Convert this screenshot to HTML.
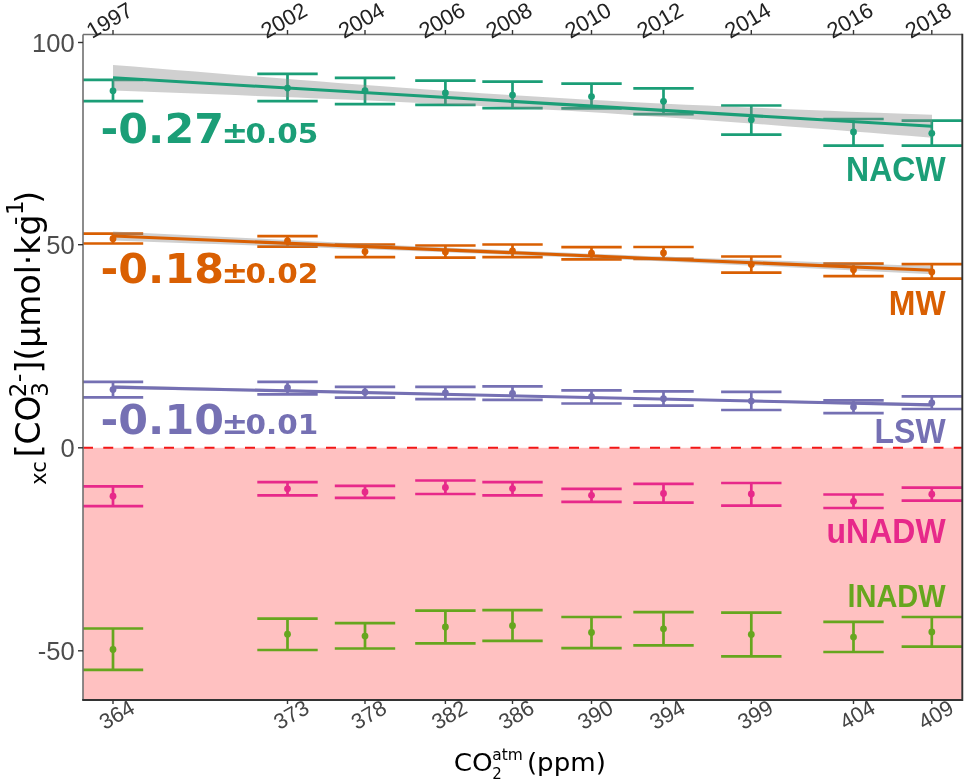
<!DOCTYPE html>
<html><head><meta charset="utf-8"><title>chart</title><style>html,body{margin:0;padding:0;background:#fff}svg{display:block}</style></head><body>
<svg width="965" height="784" viewBox="0 0 965 784">
<defs><clipPath id="cp"><rect x="83" y="34.5" width="879.3" height="665.5"/></clipPath></defs>
<rect width="965" height="784" fill="#fff"/>
<g clip-path="url(#cp)">
<rect x="83" y="447.8" width="879.3" height="252.2" fill="#FFC1C1"/>
<line x1="83" y1="447.8" x2="962.3" y2="447.8" stroke="#F21616" stroke-width="2" stroke-dasharray="10 10.25"/>
<g stroke="#1B9E77" stroke-width="2.7" fill="none">
<path d="M82.8 79.8H143.2M82.8 101.1H143.2M113 79.8V101.1"/>
<path d="M257.3 73.8H317.7M257.3 101.1H317.7M287.5 73.8V101.1"/>
<path d="M334.8 77.9H395.2M334.8 104.2H395.2M365 77.9V104.2"/>
<path d="M415.2 80.6H475.6M415.2 104.9H475.6M445.4 80.6V104.9"/>
<path d="M482.3 81.7H542.7M482.3 108.2H542.7M512.5 81.7V108.2"/>
<path d="M561.3 83.7H621.7M561.3 108.4H621.7M591.5 83.7V108.4"/>
<path d="M633.3 88.3H693.7M633.3 114.2H693.7M663.5 88.3V114.2"/>
<path d="M721.1 105.5H781.5M721.1 134.7H781.5M751.3 105.5V134.7"/>
<path d="M823.3 119H883.7M823.3 145.7H883.7M853.5 119V145.7"/>
<path d="M901.6 120.6H962.0M901.6 145.7H962.0M931.8 120.6V145.7"/>
</g>
<g stroke="#D95F02" stroke-width="2.7" fill="none">
<path d="M82.8 233.7H143.2M82.8 243.5H143.2M113 233.7V243.5"/>
<path d="M257.3 236.2H317.7M257.3 246.6H317.7M287.5 236.2V246.6"/>
<path d="M334.8 244.5H395.2M334.8 257.1H395.2M365 244.5V257.1"/>
<path d="M415.2 245.5H475.6M415.2 257.6H475.6M445.4 245.5V257.6"/>
<path d="M482.3 244.5H542.7M482.3 257.1H542.7M512.5 244.5V257.1"/>
<path d="M561.3 247.2H621.7M561.3 259.3H621.7M591.5 247.2V259.3"/>
<path d="M633.3 247H693.7M633.3 258.8H693.7M663.5 247V258.8"/>
<path d="M721.1 256.5H781.5M721.1 272.7H781.5M751.3 256.5V272.7"/>
<path d="M823.3 263.6H883.7M823.3 276.2H883.7M853.5 263.6V276.2"/>
<path d="M901.6 264.2H962.0M901.6 278.7H962.0M931.8 264.2V278.7"/>
</g>
<g stroke="#7570B3" stroke-width="2.7" fill="none">
<path d="M82.8 381.9H143.2M82.8 397.3H143.2M113 381.9V397.3"/>
<path d="M257.3 381.9H317.7M257.3 394.3H317.7M287.5 381.9V394.3"/>
<path d="M334.8 386.8H395.2M334.8 397.6H395.2M365 386.8V397.6"/>
<path d="M415.2 386.8H475.6M415.2 399.1H475.6M445.4 386.8V399.1"/>
<path d="M482.3 386.4H542.7M482.3 399.9H542.7M512.5 386.4V399.9"/>
<path d="M561.3 390.4H621.7M561.3 403.5H621.7M591.5 390.4V403.5"/>
<path d="M633.3 391.4H693.7M633.3 405.7H693.7M663.5 391.4V405.7"/>
<path d="M721.1 391.8H781.5M721.1 410H781.5M751.3 391.8V410"/>
<path d="M823.3 400.3H883.7M823.3 413.2H883.7M853.5 400.3V413.2"/>
<path d="M901.6 396.4H962.0M901.6 409H962.0M931.8 396.4V409"/>
</g>
<g stroke="#E7298A" stroke-width="2.7" fill="none">
<path d="M82.8 486.4H143.2M82.8 506.1H143.2M113 486.4V506.1"/>
<path d="M257.3 482.2H317.7M257.3 495.4H317.7M287.5 482.2V495.4"/>
<path d="M334.8 485.9H395.2M334.8 497.9H395.2M365 485.9V497.9"/>
<path d="M415.2 480.5H475.6M415.2 494H475.6M445.4 480.5V494"/>
<path d="M482.3 482.2H542.7M482.3 495.4H542.7M512.5 482.2V495.4"/>
<path d="M561.3 488.9H621.7M561.3 501.8H621.7M591.5 488.9V501.8"/>
<path d="M633.3 483.8H693.7M633.3 502.6H693.7M663.5 483.8V502.6"/>
<path d="M721.1 483H781.5M721.1 505.7H781.5M751.3 483V505.7"/>
<path d="M823.3 494.5H883.7M823.3 508H883.7M853.5 494.5V508"/>
<path d="M901.6 487.7H962.0M901.6 500.7H962.0M931.8 487.7V500.7"/>
</g>
<g stroke="#66A61E" stroke-width="2.7" fill="none">
<path d="M82.8 628.5H143.2M82.8 669.8H143.2M113 628.5V669.8"/>
<path d="M257.3 618.7H317.7M257.3 650H317.7M287.5 618.7V650"/>
<path d="M334.8 623.2H395.2M334.8 648.5H395.2M365 623.2V648.5"/>
<path d="M415.2 610.6H475.6M415.2 643.3H475.6M445.4 610.6V643.3"/>
<path d="M482.3 610.2H542.7M482.3 640.8H542.7M512.5 610.2V640.8"/>
<path d="M561.3 617H621.7M561.3 648.1H621.7M591.5 617V648.1"/>
<path d="M633.3 612.2H693.7M633.3 645.4H693.7M663.5 612.2V645.4"/>
<path d="M721.1 612.6H781.5M721.1 656.4H781.5M751.3 612.6V656.4"/>
<path d="M823.3 621.8H883.7M823.3 652H883.7M853.5 621.8V652"/>
<path d="M901.6 617H962.0M901.6 646.6H962.0M931.8 617V646.6"/>
</g>
<path d="M113.0 65.0L133.5 66.6L153.9 68.3L174.4 69.9L194.9 71.6L215.4 73.2L235.8 74.9L256.3 76.5L276.8 78.1L297.3 79.7L317.8 81.3L338.2 82.9L358.7 84.4L379.2 85.9L399.6 87.5L420.1 88.9L440.6 90.4L461.1 91.8L481.6 93.2L502.0 94.5L522.5 95.8L543.0 97.1L563.5 98.3L583.9 99.5L604.4 100.6L624.9 101.7L645.4 102.7L665.8 103.7L686.3 104.7L706.8 105.6L727.2 106.6L747.7 107.4L768.2 108.3L788.7 109.2L809.1 110.0L829.6 110.8L850.1 111.7L870.6 112.5L891.0 113.3L911.5 114.0L932.0 114.8L932.0 137.8L911.5 136.1L891.0 134.5L870.6 132.8L850.1 131.2L829.6 129.6L809.1 128.0L788.7 126.4L768.2 124.8L747.7 123.3L727.2 121.7L706.8 120.2L686.3 118.8L665.8 117.3L645.4 115.9L624.9 114.5L604.4 113.1L583.9 111.8L563.5 110.6L543.0 109.4L522.5 108.2L502.0 107.1L481.6 106.0L461.1 104.9L440.6 103.9L420.1 102.9L399.6 102.0L379.2 101.0L358.7 100.1L338.2 99.3L317.8 98.4L297.3 97.6L276.8 96.7L256.3 95.9L235.8 95.1L215.4 94.3L194.9 93.5L174.4 92.7L153.9 92.0L133.5 91.2L113.0 90.5Z" fill="#8a8a8a" fill-opacity="0.40"/>
<line x1="113" y1="77.7" x2="932" y2="126.3" stroke="#1B9E77" stroke-width="3.1"/>
<path d="M113.0 231.4L133.5 232.4L153.9 233.4L174.4 234.5L194.9 235.5L215.4 236.5L235.8 237.5L256.3 238.5L276.8 239.5L297.3 240.5L317.8 241.5L338.2 242.4L358.7 243.4L379.2 244.4L399.6 245.4L420.1 246.3L440.6 247.2L461.1 248.2L481.6 249.1L502.0 250.0L522.5 250.9L543.0 251.7L563.5 252.6L583.9 253.4L604.4 254.3L624.9 255.1L645.4 255.9L665.8 256.6L686.3 257.4L706.8 258.2L727.2 258.9L747.7 259.6L768.2 260.4L788.7 261.1L809.1 261.8L829.6 262.5L850.1 263.3L870.6 264.0L891.0 264.7L911.5 265.4L932.0 266.1L932.0 274.3L911.5 273.3L891.0 272.3L870.6 271.3L850.1 270.3L829.6 269.3L809.1 268.3L788.7 267.3L768.2 266.3L747.7 265.4L727.2 264.4L706.8 263.4L686.3 262.5L665.8 261.5L645.4 260.6L624.9 259.7L604.4 258.8L583.9 257.9L563.5 257.0L543.0 256.2L522.5 255.3L502.0 254.5L481.6 253.7L461.1 252.9L440.6 252.1L420.1 251.3L399.6 250.6L379.2 249.8L358.7 249.1L338.2 248.4L317.8 247.6L297.3 246.9L276.8 246.2L256.3 245.5L235.8 244.8L215.4 244.1L194.9 243.4L174.4 242.7L153.9 242.0L133.5 241.3L113.0 240.6Z" fill="#8a8a8a" fill-opacity="0.40"/>
<line x1="113" y1="236" x2="932" y2="270.2" stroke="#D95F02" stroke-width="3.1"/>
<path d="M113.0 385.3L133.5 385.8L153.9 386.3L174.4 386.8L194.9 387.3L215.4 387.8L235.8 388.3L256.3 388.8L276.8 389.3L297.3 389.8L317.8 390.3L338.2 390.8L358.7 391.3L379.2 391.8L399.6 392.3L420.1 392.8L440.6 393.3L461.1 393.7L481.6 394.2L502.0 394.7L522.5 395.1L543.0 395.6L563.5 396.0L583.9 396.5L604.4 396.9L624.9 397.3L645.4 397.7L665.8 398.2L686.3 398.6L706.8 399.0L727.2 399.4L747.7 399.8L768.2 400.2L788.7 400.6L809.1 401.0L829.6 401.4L850.1 401.7L870.6 402.1L891.0 402.5L911.5 402.9L932.0 403.3L932.0 406.5L911.5 406.0L891.0 405.5L870.6 405.0L850.1 404.5L829.6 404.0L809.1 403.5L788.7 403.0L768.2 402.5L747.7 402.0L727.2 401.5L706.8 401.0L686.3 400.6L665.8 400.1L645.4 399.6L624.9 399.1L604.4 398.7L583.9 398.2L563.5 397.8L543.0 397.3L522.5 396.9L502.0 396.4L481.6 396.0L461.1 395.6L440.6 395.2L420.1 394.8L399.6 394.4L379.2 394.0L358.7 393.5L338.2 393.2L317.8 392.8L297.3 392.4L276.8 392.0L256.3 391.6L235.8 391.2L215.4 390.8L194.9 390.4L174.4 390.0L153.9 389.7L133.5 389.3L113.0 388.9Z" fill="#8a8a8a" fill-opacity="0.40"/>
<line x1="113" y1="387.1" x2="932" y2="404.9" stroke="#7570B3" stroke-width="3.1"/>
<g fill="#1B9E77">
<circle cx="113" cy="90.8" r="3.4"/>
<circle cx="287.5" cy="88.1" r="3.4"/>
<circle cx="365" cy="90.6" r="3.4"/>
<circle cx="445.4" cy="93" r="3.4"/>
<circle cx="512.5" cy="95.1" r="3.4"/>
<circle cx="591.5" cy="96.6" r="3.4"/>
<circle cx="663.5" cy="101.3" r="3.4"/>
<circle cx="751.3" cy="119.8" r="3.4"/>
<circle cx="853.5" cy="132" r="3.4"/>
<circle cx="931.8" cy="133.3" r="3.4"/>
</g>
<g fill="#D95F02">
<circle cx="113" cy="238.7" r="3.4"/>
<circle cx="287.5" cy="240.8" r="3.4"/>
<circle cx="365" cy="251.6" r="3.4"/>
<circle cx="445.4" cy="252" r="3.4"/>
<circle cx="512.5" cy="250.9" r="3.4"/>
<circle cx="591.5" cy="253.2" r="3.4"/>
<circle cx="663.5" cy="253" r="3.4"/>
<circle cx="751.3" cy="264.6" r="3.4"/>
<circle cx="853.5" cy="269.8" r="3.4"/>
<circle cx="931.8" cy="271.9" r="3.4"/>
</g>
<g fill="#7570B3">
<circle cx="113" cy="389.6" r="3.4"/>
<circle cx="287.5" cy="387.7" r="3.4"/>
<circle cx="365" cy="392.2" r="3.4"/>
<circle cx="445.4" cy="392.8" r="3.4"/>
<circle cx="512.5" cy="393.3" r="3.4"/>
<circle cx="591.5" cy="396.6" r="3.4"/>
<circle cx="663.5" cy="398.7" r="3.4"/>
<circle cx="751.3" cy="401.1" r="3.4"/>
<circle cx="853.5" cy="406.9" r="3.4"/>
<circle cx="931.8" cy="402.8" r="3.4"/>
</g>
<g fill="#E7298A">
<circle cx="113" cy="496.2" r="3.4"/>
<circle cx="287.5" cy="488.8" r="3.4"/>
<circle cx="365" cy="491.9" r="3.4"/>
<circle cx="445.4" cy="487.4" r="3.4"/>
<circle cx="512.5" cy="488.6" r="3.4"/>
<circle cx="591.5" cy="495.3" r="3.4"/>
<circle cx="663.5" cy="493.4" r="3.4"/>
<circle cx="751.3" cy="494" r="3.4"/>
<circle cx="853.5" cy="501.3" r="3.4"/>
<circle cx="931.8" cy="494.2" r="3.4"/>
</g>
<g fill="#66A61E">
<circle cx="113" cy="649.5" r="3.4"/>
<circle cx="287.5" cy="634.2" r="3.4"/>
<circle cx="365" cy="636.1" r="3.4"/>
<circle cx="445.4" cy="627" r="3.4"/>
<circle cx="512.5" cy="625.7" r="3.4"/>
<circle cx="591.5" cy="632.5" r="3.4"/>
<circle cx="663.5" cy="628.8" r="3.4"/>
<circle cx="751.3" cy="634.4" r="3.4"/>
<circle cx="853.5" cy="637.1" r="3.4"/>
<circle cx="931.8" cy="631.9" r="3.4"/>
</g>
</g>
<g font-family="'DejaVu Sans',sans-serif" font-weight="bold" fill="#1B9E77">
<text transform="translate(100.6,143.4) scale(1.07,1)" font-size="40">-0.27</text>
<text transform="translate(221.4,143.4) scale(1.2,1.13)" font-size="26.5">±</text>
<text transform="translate(245.6,143.4) scale(1.08,1)" font-size="27.3">0.05</text>
</g>
<g font-family="'DejaVu Sans',sans-serif" font-weight="bold" fill="#D95F02">
<text transform="translate(100.6,283.2) scale(1.07,1)" font-size="40">-0.18</text>
<text transform="translate(221.4,283.2) scale(1.2,1.13)" font-size="26.5">±</text>
<text transform="translate(245.6,283.2) scale(1.08,1)" font-size="27.3">0.02</text>
</g>
<g font-family="'DejaVu Sans',sans-serif" font-weight="bold" fill="#7570B3">
<text transform="translate(100.6,433.7) scale(1.07,1)" font-size="40">-0.10</text>
<text transform="translate(221.4,433.7) scale(1.2,1.13)" font-size="26.5">±</text>
<text transform="translate(245.6,433.7) scale(1.08,1)" font-size="27.3">0.01</text>
</g>
<text transform="translate(945.6,181) scale(1,1.1)" text-anchor="end" font-family="'Liberation Sans',sans-serif" font-weight="bold" fill="#1B9E77" font-size="32">NACW</text>
<text transform="translate(945.6,315) scale(1,1.1)" text-anchor="end" font-family="'Liberation Sans',sans-serif" font-weight="bold" fill="#D95F02" font-size="32">MW</text>
<text transform="translate(945.6,442.6) scale(1,1.1)" text-anchor="end" font-family="'Liberation Sans',sans-serif" font-weight="bold" fill="#7570B3" font-size="32">LSW</text>
<text transform="translate(945.6,543.2) scale(1,1.1)" text-anchor="end" font-family="'Liberation Sans',sans-serif" font-weight="bold" fill="#E7298A" font-size="32">uNADW</text>
<text transform="translate(945.6,607) scale(1,1.1)" text-anchor="end" font-family="'Liberation Sans',sans-serif" font-weight="bold" fill="#66A61E" font-size="29">lNADW</text>
<path d="M83 34.5V700M83 34.5H962.3" stroke="#707070" stroke-width="1.6" fill="none"/>
<path d="M962.3 33.7V700H82.2" stroke="#333" stroke-width="1.9" fill="none"/>
<line x1="78" y1="42.5" x2="83.0" y2="42.5" stroke="#333" stroke-width="1.4"/>
<text x="74.6" y="51.9" text-anchor="end" font-family="'Liberation Sans',sans-serif" fill="#4D4D4D" font-size="25.5">100</text>
<line x1="78" y1="244.7" x2="83.0" y2="244.7" stroke="#333" stroke-width="1.4"/>
<text x="74.6" y="254.1" text-anchor="end" font-family="'Liberation Sans',sans-serif" fill="#4D4D4D" font-size="25.5">50</text>
<line x1="78" y1="447.8" x2="83.0" y2="447.8" stroke="#333" stroke-width="1.4"/>
<text x="74.6" y="457.2" text-anchor="end" font-family="'Liberation Sans',sans-serif" fill="#4D4D4D" font-size="25.5">0</text>
<line x1="78" y1="650.8" x2="83.0" y2="650.8" stroke="#333" stroke-width="1.4"/>
<text x="74.6" y="660.1999999999999" text-anchor="end" font-family="'Liberation Sans',sans-serif" fill="#4D4D4D" font-size="25.5">-50</text>
<line x1="113" y1="30" x2="113" y2="34.5" stroke="#333" stroke-width="1.4"/>
<line x1="113" y1="700.0" x2="113" y2="704" stroke="#333" stroke-width="1.4"/>
<text transform="translate(109.4,20.2) rotate(-30)" text-anchor="middle" y="7.6" font-family="'Liberation Sans',sans-serif" fill="#222" font-size="22">1997</text>
<text transform="translate(116.8,714.6) rotate(-30)" text-anchor="middle" y="7.6" font-family="'Liberation Sans',sans-serif" fill="#444" font-size="21.8">364</text>
<line x1="287.5" y1="30" x2="287.5" y2="34.5" stroke="#333" stroke-width="1.4"/>
<line x1="287.5" y1="700.0" x2="287.5" y2="704" stroke="#333" stroke-width="1.4"/>
<text transform="translate(283.9,20.2) rotate(-30)" text-anchor="middle" y="7.6" font-family="'Liberation Sans',sans-serif" fill="#222" font-size="22">2002</text>
<text transform="translate(291.3,714.6) rotate(-30)" text-anchor="middle" y="7.6" font-family="'Liberation Sans',sans-serif" fill="#444" font-size="21.8">373</text>
<line x1="365" y1="30" x2="365" y2="34.5" stroke="#333" stroke-width="1.4"/>
<line x1="365" y1="700.0" x2="365" y2="704" stroke="#333" stroke-width="1.4"/>
<text transform="translate(361.4,20.2) rotate(-30)" text-anchor="middle" y="7.6" font-family="'Liberation Sans',sans-serif" fill="#222" font-size="22">2004</text>
<text transform="translate(368.8,714.6) rotate(-30)" text-anchor="middle" y="7.6" font-family="'Liberation Sans',sans-serif" fill="#444" font-size="21.8">378</text>
<line x1="445.4" y1="30" x2="445.4" y2="34.5" stroke="#333" stroke-width="1.4"/>
<line x1="445.4" y1="700.0" x2="445.4" y2="704" stroke="#333" stroke-width="1.4"/>
<text transform="translate(441.79999999999995,20.2) rotate(-30)" text-anchor="middle" y="7.6" font-family="'Liberation Sans',sans-serif" fill="#222" font-size="22">2006</text>
<text transform="translate(449.2,714.6) rotate(-30)" text-anchor="middle" y="7.6" font-family="'Liberation Sans',sans-serif" fill="#444" font-size="21.8">382</text>
<line x1="512.5" y1="30" x2="512.5" y2="34.5" stroke="#333" stroke-width="1.4"/>
<line x1="512.5" y1="700.0" x2="512.5" y2="704" stroke="#333" stroke-width="1.4"/>
<text transform="translate(508.9,20.2) rotate(-30)" text-anchor="middle" y="7.6" font-family="'Liberation Sans',sans-serif" fill="#222" font-size="22">2008</text>
<text transform="translate(516.3,714.6) rotate(-30)" text-anchor="middle" y="7.6" font-family="'Liberation Sans',sans-serif" fill="#444" font-size="21.8">386</text>
<line x1="591.5" y1="30" x2="591.5" y2="34.5" stroke="#333" stroke-width="1.4"/>
<line x1="591.5" y1="700.0" x2="591.5" y2="704" stroke="#333" stroke-width="1.4"/>
<text transform="translate(587.9,20.2) rotate(-30)" text-anchor="middle" y="7.6" font-family="'Liberation Sans',sans-serif" fill="#222" font-size="22">2010</text>
<text transform="translate(595.3,714.6) rotate(-30)" text-anchor="middle" y="7.6" font-family="'Liberation Sans',sans-serif" fill="#444" font-size="21.8">390</text>
<line x1="663.5" y1="30" x2="663.5" y2="34.5" stroke="#333" stroke-width="1.4"/>
<line x1="663.5" y1="700.0" x2="663.5" y2="704" stroke="#333" stroke-width="1.4"/>
<text transform="translate(659.9,20.2) rotate(-30)" text-anchor="middle" y="7.6" font-family="'Liberation Sans',sans-serif" fill="#222" font-size="22">2012</text>
<text transform="translate(667.3,714.6) rotate(-30)" text-anchor="middle" y="7.6" font-family="'Liberation Sans',sans-serif" fill="#444" font-size="21.8">394</text>
<line x1="751.3" y1="30" x2="751.3" y2="34.5" stroke="#333" stroke-width="1.4"/>
<line x1="751.3" y1="700.0" x2="751.3" y2="704" stroke="#333" stroke-width="1.4"/>
<text transform="translate(747.6999999999999,20.2) rotate(-30)" text-anchor="middle" y="7.6" font-family="'Liberation Sans',sans-serif" fill="#222" font-size="22">2014</text>
<text transform="translate(755.0999999999999,714.6) rotate(-30)" text-anchor="middle" y="7.6" font-family="'Liberation Sans',sans-serif" fill="#444" font-size="21.8">399</text>
<line x1="853.5" y1="30" x2="853.5" y2="34.5" stroke="#333" stroke-width="1.4"/>
<line x1="853.5" y1="700.0" x2="853.5" y2="704" stroke="#333" stroke-width="1.4"/>
<text transform="translate(849.9,20.2) rotate(-30)" text-anchor="middle" y="7.6" font-family="'Liberation Sans',sans-serif" fill="#222" font-size="22">2016</text>
<text transform="translate(857.3,714.6) rotate(-30)" text-anchor="middle" y="7.6" font-family="'Liberation Sans',sans-serif" fill="#444" font-size="21.8">404</text>
<line x1="931.8" y1="30" x2="931.8" y2="34.5" stroke="#333" stroke-width="1.4"/>
<line x1="931.8" y1="700.0" x2="931.8" y2="704" stroke="#333" stroke-width="1.4"/>
<text transform="translate(928.1999999999999,20.2) rotate(-30)" text-anchor="middle" y="7.6" font-family="'Liberation Sans',sans-serif" fill="#222" font-size="22">2018</text>
<text transform="translate(935.5999999999999,714.6) rotate(-30)" text-anchor="middle" y="7.6" font-family="'Liberation Sans',sans-serif" fill="#444" font-size="21.8">409</text>
<g font-family="'DejaVu Sans',sans-serif" fill="#000">
<text transform="translate(453.8,771.4) scale(1.05,1)" font-size="25">CO</text>
<text x="492.2" y="779.4" font-size="15">2</text>
<text transform="translate(492.2,759.5) scale(1.03,1)" font-size="15">atm</text>
<text transform="translate(526.9,771.4) scale(1.045,1.02)" font-size="25">(ppm)</text>
</g>
<g transform="translate(40.2,484.3) rotate(-90)" font-family="'DejaVu Sans',sans-serif" fill="#000">
<text x="-0.4" y="5.7" font-size="21">xc</text>
<text x="27" y="0" font-size="33">[CO</text>
<text x="87.5" y="8.1" font-size="23">3</text>
<text x="87.0" y="-14.7" font-size="23">2</text>
<text x="102.4" y="-14.7" font-size="23">-</text>
<text x="110.9" y="0" font-size="33">](µmol·kg</text>
<text x="259.4" y="-17.8" font-size="23">-</text>
<text x="269.3" y="-17.6" font-size="23">1</text>
<text x="280.5" y="0" font-size="33">)</text>
</g>
</svg>
</body></html>
